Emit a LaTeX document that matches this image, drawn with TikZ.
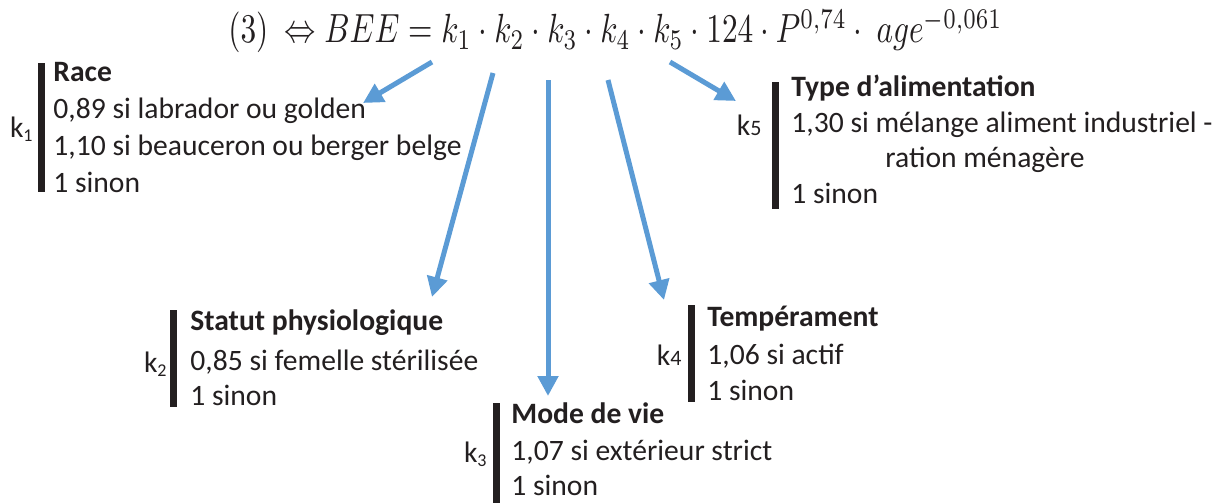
\documentclass[tikz,border=0pt]{standalone}
\usepackage{fontspec}
\setmainfont{Carlito}
\usetikzlibrary{arrows.meta}
\definecolor{arrowblue}{HTML}{5B9BD5}
\definecolor{ink}{HTML}{231F20}
\tikzset{
  txt/.style={anchor=base west, inner sep=0pt, text=ink, font=\fontsize{14.8}{18}\selectfont},
  ttl/.style={anchor=base west, inner sep=0pt, text=ink, font=\fontsize{14.8}{18}\selectfont\bfseries},
  klab/.style={anchor=base east, inner sep=0pt, text=ink, font=\fontsize{14.8}{18}\selectfont},
  barfill/.style={fill=ink, draw=none},
  arr/.style={draw=arrowblue, line width=2.5pt, -{Triangle[length=10pt,width=10pt,fill=arrowblue]}}
}
\newcommand{\lowsub}[1]{\raisebox{-0.35ex}{\fontsize{9}{9}\selectfont #1}}
\newcommand{\basesub}[1]{{\fontsize{11}{11}\selectfont #1}}
\begin{document}
\begin{tikzpicture}[x=0.5pt,y=-0.5pt]
\useasboundingbox (0,0) rectangle (1212,503);
% equation
\node[anchor=base west, inner sep=0pt, text=ink] (eq) at (228,43)
  {\scalebox{1}[1.3]{\resizebox{387pt}{!}{$(3)\ \Leftrightarrow BEE = k_1\cdot k_2\cdot k_3\cdot k_4\cdot k_5\cdot 124\cdot P^{0,74}\cdot\ age^{-0,061}$}}};
% arrow coordinates
\coordinate (s1) at (432,62);  \coordinate (e1) at (363,103);
\coordinate (s2) at (493,73);  \coordinate (e2) at (432,297);
\coordinate (s3) at (548,80);  \coordinate (e3) at (548,396);
\coordinate (s4) at (608,80);  \coordinate (e4) at (664,300);
\coordinate (s5) at (670,62);  \coordinate (e5) at (736,101);
\draw[arr] (s1) -- (e1);
\draw[arr] (s2) -- (e2);
\draw[arr] (s3) -- (e3);
\draw[arr] (s4) -- (e4);
\draw[arr] (s5) -- (e5);
% bars
\fill[barfill] (38,63) rectangle (45,192);
\fill[barfill] (772,82) rectangle (779,209);
\fill[barfill] (170,310) rectangle (177,407);
\fill[barfill] (688,305) rectangle (695,402);
\fill[barfill] (493,403) rectangle (500,503);
% k labels
\node[klab] (k1) at (33,137) {k\lowsub{1}};
\node[klab] (k5) at (762,135) {k\basesub{5}};
\node[klab] (k2) at (167,372) {k\lowsub{2}};
\node[klab] (k4) at (682,365) {k\basesub{4}};
\node[klab] (k3) at (487,462) {k\lowsub{3}};
% k1 block
\node[ttl] (r0) at (53,81) {Race};
\node[txt] (r1) at (53,118) {0,89 si labrador ou golden};
\node[txt] (r2) at (53,155) {1,10 si beauceron ou berger belge};
\node[txt] (r3) at (53,192) {1 sinon};
% k5 block
\node[ttl] (t0) at (791,97) {Type d’alimentation};
\node[txt] (t1) at (791,132) {1,30 si mélange aliment industriel -};
\node[txt] (t2) at (885,167) {ration ménagère};
\node[txt] (t3) at (791,203) {1 sinon};
% k2 block
\node[ttl] (p0) at (190,330) {Statut physiologique};
\node[txt] (p1) at (190,370) {0,85 si femelle stérilisée};
\node[txt] (p2) at (190,405) {1 sinon};
% k4 block
\node[ttl] (m0) at (707,326) {Tempérament};
\node[txt] (m1) at (707,364) {1,06 si actif};
\node[txt] (m2) at (707,400) {1 sinon};
% k3 block
\node[ttl] (v0) at (511,423) {Mode de vie};
\node[txt] (v1) at (511,460) {1,07 si extérieur strict};
\node[txt] (v2) at (511,495) {1 sinon};
\end{tikzpicture}
\end{document}
